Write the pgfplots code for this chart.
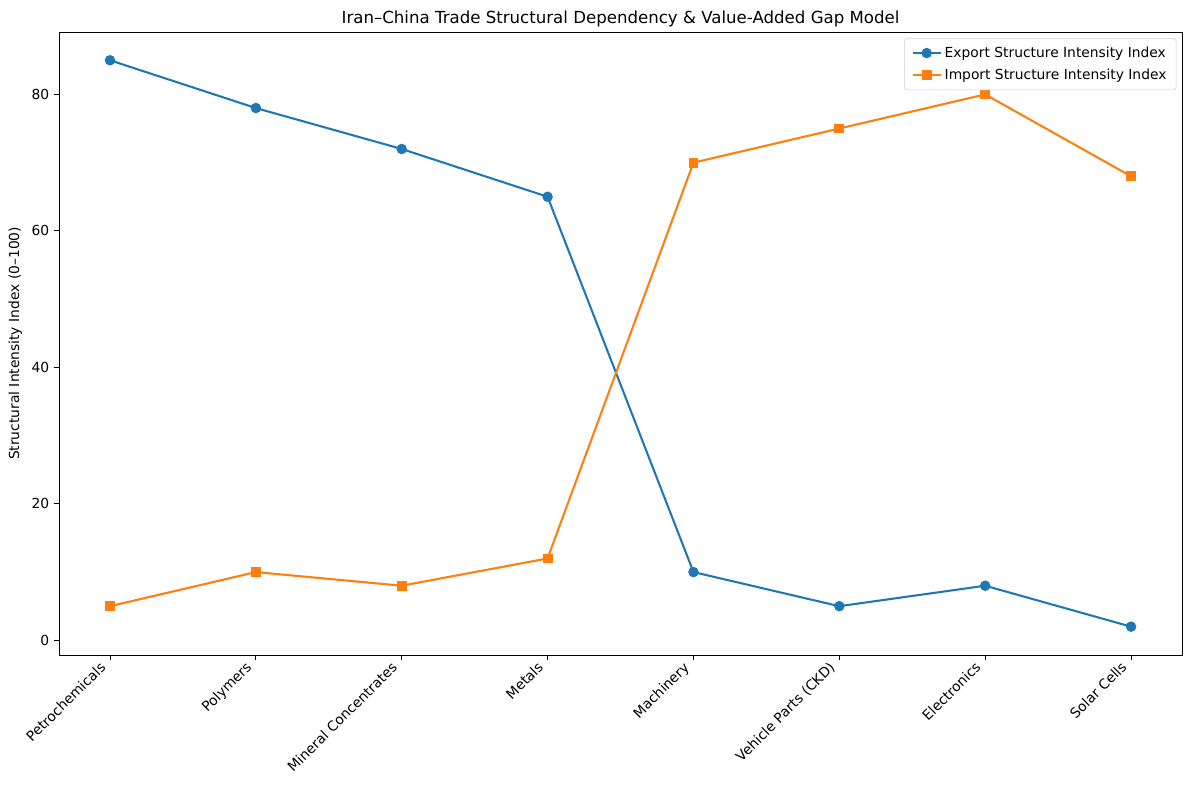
\documentclass[border=0pt]{standalone}
\usepackage{pgfplots}
\pgfplotsset{compat=1.18}
\usepackage{fontspec}
\setmainfont{DejaVu Sans}
\definecolor{tabblue}{HTML}{1F77B4}
\definecolor{taborange}{HTML}{FF7F0E}
\begin{document}
\begin{tikzpicture}
\begin{axis}[
  scale only axis,
  width=811.6pt, height=450.2pt,
  xmin=-0.35, xmax=7.35,
  ymin=-2.15, ymax=89.15,
  xtick={0,1,2,3,4,5,6,7},
  xticklabels={Petrochemicals, Polymers, Mineral Concentrates, Metals, Machinery, Vehicle Parts (CKD), Electronics, Solar Cells},
  x tick label style={xshift=-8pt, yshift=1pt, rotate=45, anchor=north east, inner sep=1pt},
  ytick={0,20,40,60,80},
  tick align=outside,
  major tick length=3.5pt,
  tick style={black, line width=0.6pt},
  xtick pos=bottom, ytick pos=left,
  /pgf/number format/assume math mode=true,
  tick label style={font=\fontsize{10}{12}\selectfont},
  ylabel={Structural Intensity Index (0–100)},
  ylabel style={font=\fontsize{10}{12}\selectfont},
  title={Iran–China Trade Structural Dependency \& Value-Added Gap Model},
  title style={font=\fontsize{12}{14}\selectfont, yshift=-6pt},
  axis line style={line width=0.6pt},
  legend style={font=\fontsize{10}{12}\selectfont, draw=black!20, rounded corners=2pt, row sep=3pt, inner xsep=5pt, inner ysep=4pt, at={(0.995,0.99)}, anchor=north east},
  legend cell align=left,
  legend image code/.code={%
    \draw[mark repeat=2, mark phase=2] plot coordinates {(0cm,0cm) (0.36cm,0cm) (0.72cm,0cm)};},
]
\addplot[tabblue, line width=1.5pt, mark=*, mark size=3pt, mark options={solid, fill=tabblue, draw=tabblue}]
  coordinates {(0,85) (1,78) (2,72) (3,65) (4,10) (5,5) (6,8) (7,2)};
\addlegendentry{Export Structure Intensity Index}
\addplot[taborange, line width=1.5pt, mark=square*, mark size=2.8pt, mark options={solid, fill=taborange, draw=taborange}]
  coordinates {(0,5) (1,10) (2,8) (3,12) (4,70) (5,75) (6,80) (7,68)};
\addlegendentry{Import Structure Intensity Index}
\end{axis}
\path (current axis.south west) ++(-42.6pt,-97.6pt) coordinate (bbA);
\path (current axis.north east) ++(5pt,23.1pt) coordinate (bbB);
\pgfresetboundingbox
\path (bbA) rectangle (bbB);
\end{tikzpicture}
\end{document}
